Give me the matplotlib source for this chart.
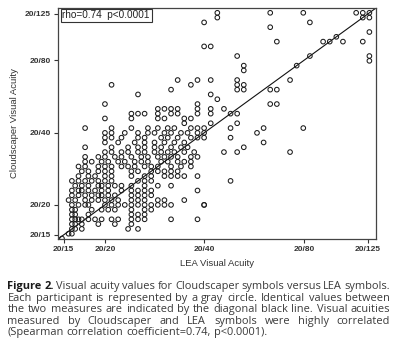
import matplotlib
matplotlib.use("Agg")
import matplotlib.pyplot as plt
import numpy as np

# Cloudscaper acuity rows (logMAR) and the LEA acuities (logMAR) of the
# participants sitting on each row
cloud_levels = [0.80, 0.78, 0.76, 0.74, 0.72, 0.70, 0.68, 0.66, 0.62, 0.60,
                0.58, 0.56, 0.52, 0.50, 0.48, 0.46, 0.44, 0.42, 0.40, 0.38,
                0.36, 0.34, 0.32, 0.30, 0.28, 0.26, 0.24, 0.22, 0.20, 0.18,
                0.16, 0.14, 0.12, 0.10, 0.08, 0.06, 0.04, 0.02, 0.00, -0.02,
                -0.04, -0.06, -0.08, -0.10, -0.12, -0.14]
lea_at_level = [
    [0.34, 0.50, 0.60, 0.76, 0.78, 0.80],
    [0.34, 0.78, 0.80],
    [0.30, 0.62],
    [0.50],
    [0.80],
    [0.70],
    [0.52, 0.66, 0.68, 0.72, 0.78],
    [0.30, 0.32],
    [0.40, 0.62, 0.80],
    [0.80],
    [0.42, 0.58],
    [0.42],
    [0.22, 0.28, 0.32, 0.40, 0.56],
    [0.02, 0.26, 0.40, 0.42],
    [0.20, 0.40, 0.42, 0.50, 0.52],
    [0.10, 0.32],
    [0.34],
    [0.00, 0.28, 0.50, 0.52],
    [0.16, 0.18, 0.20, 0.22, 0.28, 0.32, 0.36],
    [0.08, 0.10, 0.12, 0.16, 0.20, 0.22, 0.28, 0.32, 0.38, 0.40],
    [0.00, 0.08, 0.16, 0.18, 0.24, 0.26],
    [0.24, 0.32, 0.40],
    [-0.06, 0.02, 0.08, 0.13, 0.16, 0.19, 0.21, 0.26, 0.28, 0.30, 0.38, 0.48, 0.60],
    [0.00, 0.02, 0.06, 0.10, 0.13, 0.15, 0.18, 0.20, 0.23, 0.25, 0.28, 0.30, 0.46],
    [0.00, 0.02, 0.05, 0.10, 0.12, 0.17, 0.19, 0.22, 0.26, 0.28, 0.30, 0.38],
    [0.00, 0.04, 0.09, 0.12, 0.15, 0.18, 0.21, 0.24, 0.48],
    [-0.06, 0.02, 0.07, 0.10, 0.12, 0.15, 0.17, 0.20, 0.23, 0.25, 0.42],
    [0.00, 0.02, 0.05, 0.07, 0.10, 0.12, 0.15, 0.17, 0.19, 0.21, 0.24, 0.27, 0.36, 0.40, 0.56],
    [-0.06, -0.02, 0.00, 0.03, 0.05, 0.08, 0.11, 0.13, 0.16, 0.18, 0.20, 0.22, 0.26, 0.28],
    [-0.06, -0.04, -0.01, 0.01, 0.04, 0.06, 0.09, 0.11, 0.13, 0.17, 0.19, 0.22, 0.24, 0.26],
    [-0.08, -0.06, -0.02, 0.00, 0.02, 0.05, 0.07, 0.09, 0.12, 0.14, 0.16, 0.20, 0.23, 0.26],
    [-0.07, -0.05, -0.02, 0.00, 0.02, 0.08, 0.10, 0.14, 0.16, 0.18, 0.20, 0.22],
    [-0.08, -0.05, -0.03, 0.00, 0.02, 0.08, 0.12, 0.14, 0.18, 0.20, 0.22, 0.24, 0.28],
    [-0.10, -0.08, -0.06, -0.04, -0.02, 0.00, 0.02, 0.10, 0.12, 0.14, 0.38],
    [-0.09, -0.07, -0.05, -0.02, -0.01, 0.01, 0.03, 0.05, 0.08, 0.12, 0.16, 0.20],
    [-0.10, -0.08, -0.07, -0.05, -0.03, -0.01, 0.01, 0.05, 0.08, 0.10, 0.12, 0.14, 0.28],
    [-0.10, -0.08, -0.06, -0.04, -0.02, -0.01, 0.01, 0.03, 0.08, 0.10, 0.12, 0.14],
    [-0.11, -0.09, -0.06, -0.04, -0.02, 0.00, 0.02, 0.04, 0.08, 0.10, 0.12, 0.16, 0.18, 0.24],
    [-0.10, -0.08, -0.06, -0.05, 0.00, 0.02, 0.04, 0.06, 0.08, 0.10, 0.12, 0.14, 0.16, 0.18, 0.20, 0.30, 0.30],
    [-0.10, -0.09, -0.04, -0.01, 0.01, 0.03, 0.08, 0.12, 0.14],
    [-0.10, -0.09, -0.05, 0.08, 0.10, 0.12],
    [-0.10, -0.09, -0.08, -0.07, -0.05, -0.03, -0.01, 0.02, 0.04, 0.08, 0.10, 0.12, 0.20, 0.28],
    [-0.10, -0.09, -0.07, -0.02, 0.03, 0.08],
    [-0.10, -0.09, -0.07, 0.07, 0.10],
    [-0.11, -0.10],
    [-0.13],
]

snellen = ["20/15", "20/20", "20/40", "20/80", "20/125"]
snellen_denoms = [15, 20, 40, 80, 125]
rho_text = "rho=0.74  p<0.0001"

caption_lines = [
    "Figure 2. Visual acuity values for Cloudscaper symbols versus LEA symbols.",
    "Each participant is represented by a gray circle. Identical values between",
    "the two measures are indicated by the diagonal black line. Visual acuities",
    "measured by Cloudscaper and LEA symbols were highly correlated",
    "(Spearman correlation coefficient=0.74, p<0.0001).",
]

lea = []
cloud = []
for level, row in zip(cloud_levels, lea_at_level):
    for v in row:
        lea.append(v)
        cloud.append(level)

W, H = 399, 356
fig = plt.figure(figsize=(W / 100, H / 100), dpi=100)
fig.patch.set_facecolor("white")

ax = fig.add_axes([58 / W, 1 - 239 / H, 318 / W, 231 / H])
lo, hi = -0.142, 0.82
ax.set_xlim(lo, hi)
ax.set_ylim(lo, hi)

ax.plot([lo, hi], [lo, hi], color="#111111", lw=0.8, zorder=2)
ax.scatter(lea, cloud, s=11, facecolors="none", edgecolors="#1c1c1c",
           linewidths=0.75, zorder=3)

tick_pos = np.log10(np.array(snellen_denoms) / 20.0)
tick_font = dict(family="Liberation Sans", size=6.0, weight="bold", color="#333333")
ax.set_xticks(tick_pos)
ax.set_xticklabels(snellen, **tick_font)
ax.set_yticks(tick_pos)
ax.set_yticklabels(snellen, **tick_font)
ax.tick_params(length=3, width=0.8, color="#333333", pad=2)

for s in ax.spines.values():
    s.set_color("#444444")
    s.set_linewidth(0.9)

label_font = dict(family="Liberation Sans", size=6.8, color="#333333")
ax.set_xlabel("LEA Visual Acuity", labelpad=4, **label_font)
ax.set_ylabel("Cloudscaper Visual Acuity", labelpad=4, **label_font)

ax.text(0.014, 0.99, rho_text, transform=ax.transAxes, va="top", ha="left",
        family="Liberation Sans", size=7.2, color="#222222",
        bbox=dict(boxstyle="square,pad=0.18", fc="white", ec="#333333", lw=0.8))

# caption, justified word by word like the journal layout
renderer = fig.canvas.get_renderer()
left_px, right_px = 7.5, 390.0
baselines = [289, 300.6, 312.2, 323.8, 335.4]
cap_color = "#3a3a3a"


def word_width(word, bold, size):
    t = fig.text(0, 0, word, family="Open Sans", size=size,
                 weight="bold" if bold else "normal")
    w = t.get_window_extent(renderer).width
    t.remove()
    return w


def bold_flags(i, words):
    return [i == 0 and j < 2 for j in range(len(words))]


# size the caption font so the first line fills the column naturally
first = caption_lines[0].split(" ")
ref_size = 10.0
sp = word_width("a b", False, ref_size) - word_width("ab", False, ref_size)
natural = sum(word_width(w, b, ref_size) for w, b in zip(first, bold_flags(0, first)))
natural += sp * (len(first) - 1)
cap_size = ref_size * (right_px - left_px) / natural

space_w = word_width("a b", False, cap_size) - word_width("ab", False, cap_size)
for i, line in enumerate(caption_lines):
    words = line.split(" ")
    bolds = bold_flags(i, words)
    widths = [word_width(w, b, cap_size) for w, b in zip(words, bolds)]
    if i < 4:
        gap = (right_px - left_px - sum(widths)) / (len(words) - 1)
    else:
        gap = space_w
    x = left_px
    for w, b, wd in zip(words, bolds, widths):
        fig.text(x / W, 1 - baselines[i] / H, w, ha="left", va="baseline",
                 family="Open Sans", size=cap_size,
                 weight="bold" if b else "normal",
                 color="#1a1a1a" if b else cap_color)
        x += wd + gap

fig.savefig("out.png", dpi=100)
